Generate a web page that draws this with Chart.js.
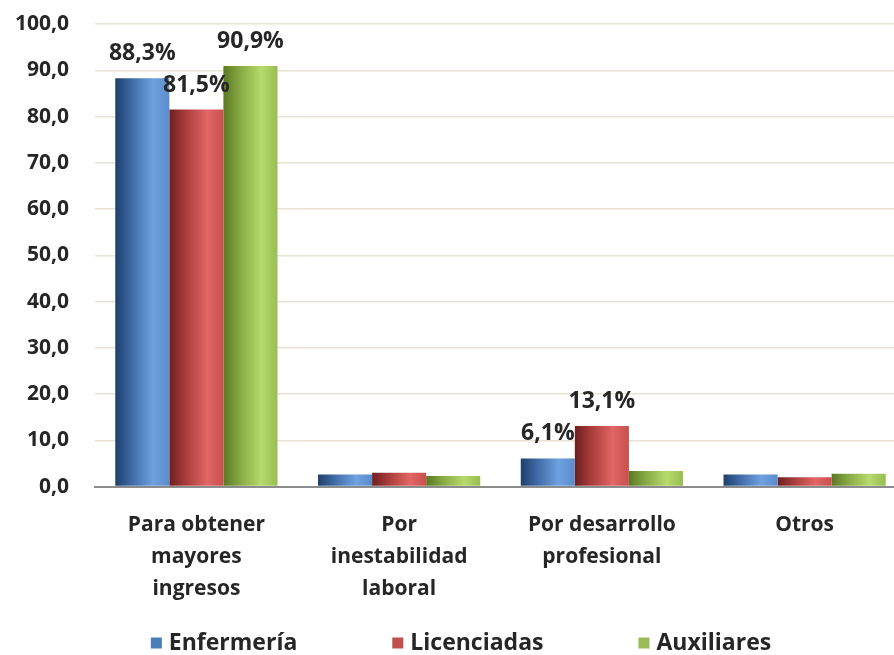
<!DOCTYPE html>
<html>
<head>
<meta charset="utf-8">
<script src="https://cdn.jsdelivr.net/npm/chart.js@4/dist/chart.umd.min.js"></script>
<style>
html, body { margin: 0; padding: 0; background: #fff; overflow: hidden; }
#wrap { width: 906px; height: 655px; }
</style>
</head>
<body>
<div id="wrap"><canvas id="chart"></canvas></div>
<script>
// datos del gráfico
const categories = [
    ['Para obtener', 'mayores', 'ingresos'],
    ['Por', 'inestabilidad', 'laboral'],
    ['Por desarrollo', 'profesional'],
    ['Otros']
];
const seriesNames = ['Enfermería', 'Licenciadas', 'Auxiliares'];
const enfermeria = [88.3, 2.6, 6.1, 2.6];
const licenciadas = [81.5, 3.0, 13.1, 2.0];
const auxiliares = [90.9, 2.3, 3.4, 2.8];
// etiquetas visibles sobre algunas barras
const labelsEnfermeria = ['88,3%', null, '6,1%', null];
const labelsLicenciadas = ['81,5%', null, '13,1%', null];
const labelsAuxiliares = ['90,9%', null, null, null];
const yMin = 0, yMax = 100, yStep = 10;

const FONT = '"Open Sans", "Noto Sans", sans-serif';
const TEXT = '#262626';
const solidColors = ['#4a7ebb', '#c0504d', '#9bbb59'];
const gradients = [
    ['#1d3f6b', '#3f6aa6', '#6fa1e0', '#5a8bcb'],
    ['#6d1f1f', '#a83c3b', '#e16665', '#c9504f'],
    ['#5a7922', '#86a843', '#b6da6c', '#98bd50']
];
const CAT_PCT = 0.8;

// relleno tipo cilindro (degradado horizontal)
function cylinder(idx) {
    return function (c) {
        const chart = c.chart;
        const x = chart.scales.x;
        if (!x || !chart.chartArea || c.dataIndex === undefined) return solidColors[idx];
        const catW = x.width / categories.length;
        const barW = catW * CAT_PCT / 3;
        const cx = x.getPixelForValue(c.dataIndex) + (idx - 1) * barW;
        const g = chart.ctx.createLinearGradient(cx - barW / 2, 0, cx + barW / 2, 0);
        const s = gradients[idx];
        g.addColorStop(0, s[0]);
        g.addColorStop(0.3, s[1]);
        g.addColorStop(0.7, s[2]);
        g.addColorStop(1, s[3]);
        return g;
    };
}

// etiquetas de valores
const valueLabels = {
    id: 'valueLabels',
    afterDatasetsDraw(chart) {
        const lists = [labelsEnfermeria, labelsLicenciadas, labelsAuxiliares];
        const ctx = chart.ctx;
        ctx.save();
        ctx.font = 'bold 23px ' + FONT;
        ctx.fillStyle = TEXT;
        ctx.textAlign = 'center';
        ctx.textBaseline = 'bottom';
        chart.data.datasets.forEach((ds, di) => {
            const meta = chart.getDatasetMeta(di);
            meta.data.forEach((bar, i) => {
                const t = lists[di][i];
                if (t) ctx.fillText(t, bar.x, bar.y - 13);
            });
        });
        ctx.restore();
    }
};

// leyenda dibujada a mano
const bottomLegend = {
    id: 'bottomLegend',
    afterDraw(chart) {
        const ctx = chart.ctx;
        ctx.save();
        ctx.font = 'bold 23px ' + FONT;
        ctx.textBaseline = 'middle';
        const box = 11, gap = 7, spacing = 95;
        const widths = seriesNames.map(n => box + gap + ctx.measureText(n).width);
        const total = widths.reduce((a, b) => a + b, 0) + spacing * (widths.length - 1);
        let x = chart.width / 2 + 8 - total / 2;
        const y = 643;
        seriesNames.forEach((n, i) => {
            ctx.fillStyle = solidColors[i];
            ctx.fillRect(x, y - box / 2, box, box);
            ctx.fillStyle = TEXT;
            ctx.fillText(n, x + box + gap, y);
            x += widths[i] + spacing;
        });
        ctx.restore();
    }
};

const values = [enfermeria, licenciadas, auxiliares];

new Chart(document.getElementById('chart'), {
    type: 'bar',
    data: {
        labels: categories,
        datasets: seriesNames.map((name, i) => ({
            label: name,
            data: values[i],
            backgroundColor: cylinder(i),
            borderWidth: 0,
            barPercentage: 1,
            categoryPercentage: CAT_PCT
        }))
    },
    options: {
        responsive: true,
        maintainAspectRatio: false,
        animation: false,
        layout: { padding: { left: 6, top: 24, right: 0, bottom: 36 } },
        plugins: {
            legend: { display: false },
            tooltip: { enabled: false }
        },
        scales: {
            x: {
                grid: { display: false },
                border: { color: '#8c8c8c', width: 2 },
                ticks: {
                    color: TEXT,
                    font: { family: FONT, size: 21, weight: 'bold', lineHeight: 1.53 },
                    padding: 14,
                    maxRotation: 0
                }
            },
            y: {
                min: yMin,
                max: yMax,
                afterFit: s => { s.width = 89; },
                grid: { color: '#e8e4d4', lineWidth: 1.5, drawTicks: true, tickLength: 22, tickColor: 'rgba(0,0,0,0)' },
                border: { display: false },
                ticks: {
                    stepSize: yStep,
                    color: TEXT,
                    padding: 4,
                    font: { family: FONT, size: 21, weight: 'bold' },
                    callback: v => v.toFixed(1).replace('.', ',')
                }
            }
        }
    },
    plugins: [valueLabels, bottomLegend]
});
</script>
</body>
</html>
